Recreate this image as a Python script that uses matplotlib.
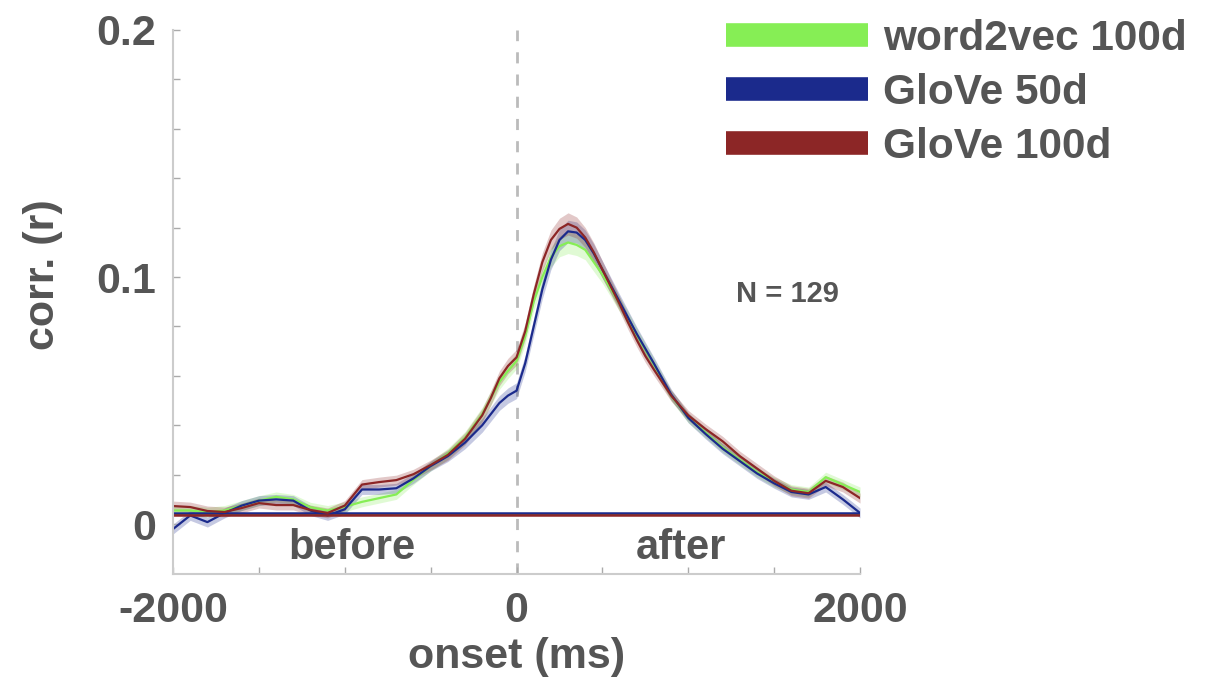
import numpy as np
import matplotlib
matplotlib.use("Agg")
import matplotlib.pyplot as plt
from matplotlib.lines import Line2D

plt.rcParams['font.family'] = ['Liberation Sans', 'DejaVu Sans']
plt.rcParams['font.weight'] = 'bold'

# lags (ms): 100 ms steps, 50 ms around the peak
lags = list(range(-2000, -299, 100)) + list(range(-200, 801, 50)) + list(range(900, 2001, 100))

w2v_100 = [0.0055, 0.0055, 0.0048, 0.0055, 0.0075, 0.0095, 0.0110, 0.0100, 0.0068, 0.0055,
           0.0070, 0.0090, 0.0105, 0.0120, 0.0180, 0.0235, 0.0285, 0.0350,
           0.0445, 0.0510, 0.0575, 0.0620, 0.0660, 0.0760, 0.0900, 0.1000, 0.1080, 0.1125,
           0.1140, 0.1130, 0.1110, 0.1060, 0.1010, 0.0950, 0.0890, 0.0830, 0.0765, 0.0705, 0.0645,
           0.0520, 0.0430, 0.0370, 0.0310, 0.0260, 0.0210, 0.0170, 0.0140, 0.0130, 0.0190,
           0.0160, 0.0130]

glove_50 = [-0.0020, 0.0035, 0.0008, 0.0045, 0.0075, 0.0095, 0.0100, 0.0095, 0.0055, 0.0035,
            0.0060, 0.0140, 0.0140, 0.0145, 0.0185, 0.0235, 0.0275, 0.0330,
            0.0400, 0.0445, 0.0490, 0.0520, 0.0540, 0.0650, 0.0800, 0.0950, 0.1070, 0.1150,
            0.1185, 0.1180, 0.1150, 0.1095, 0.1030, 0.0965, 0.0900, 0.0835, 0.0770, 0.0710, 0.0650,
            0.0525, 0.0430, 0.0365, 0.0305, 0.0255, 0.0205, 0.0165, 0.0130, 0.0120, 0.0150,
            0.0100, 0.0045]

glove_100 = [0.0073, 0.0069, 0.0053, 0.0049, 0.0065, 0.0085, 0.0077, 0.0077, 0.0057, 0.0045,
             0.0075, 0.0160, 0.0170, 0.0178, 0.0202, 0.0239, 0.0280, 0.0345,
             0.0440, 0.0510, 0.0590, 0.0640, 0.0675, 0.0780, 0.0930, 0.1060, 0.1150, 0.1195,
             0.1215, 0.1200, 0.1160, 0.1100, 0.1030, 0.0960, 0.0890, 0.0815, 0.0745, 0.0680, 0.0625,
             0.0520, 0.0440, 0.0385, 0.0335, 0.0275, 0.0225, 0.0175, 0.0135, 0.0125, 0.0175,
             0.0150, 0.0105]

# standard error (half width of shaded band)
sem = [0.002, 0.002, 0.002, 0.002, 0.002, 0.002, 0.002, 0.002, 0.002, 0.002,
       0.002, 0.002, 0.002, 0.002, 0.002, 0.002, 0.0022, 0.0025,
       0.0028, 0.0029, 0.003, 0.0031, 0.0032, 0.0033, 0.0035, 0.0038, 0.004, 0.0043,
       0.0045, 0.0043, 0.004, 0.0038, 0.0035, 0.0032, 0.003, 0.0029, 0.0028, 0.0026, 0.0025,
       0.0022, 0.002, 0.002, 0.002, 0.002, 0.002, 0.002, 0.002, 0.002, 0.002,
       0.002, 0.002]

# significance threshold per embedding
thresholds = [0.004, 0.0045, 0.0035]

names = ['word2vec 100d', 'GloVe 50d', 'GloVe 100d']
colors = ['#86ee55', '#1b2a8c', '#8c2626']
series = [w2v_100, glove_50, glove_100]

gray_txt = '#555555'
spine_col = '#cccccc'

fig = plt.figure(figsize=(12.11, 6.8), dpi=100)
ax = fig.add_axes([0.1429, 0.1559, 0.5673, 0.8000])

t = np.array(lags)
for vals, col, thr in zip(series, colors, thresholds):
    v = np.array(vals)
    e = np.array(sem)
    ax.fill_between(t, v - e, v + e, color=col, alpha=0.25, lw=0)
    ax.plot(t, v, color=col, lw=1.6)
    ax.plot([lags[0], lags[-1]], [thr, thr], color=col, lw=1.8)

ax.axvline(0, color='#bbbbbb', ls=(0, (4, 4)), lw=2, zorder=0)

ax.set_xlim(-2000, 2000)
ax.set_ylim(-0.0202, 0.2)
ax.set_xticks([-2000, 0, 2000])
ax.set_xticklabels(['-2000', '0', '2000'])
ax.set_xticks(np.arange(-2000, 2001, 500), minor=True)
ax.set_yticks([0, 0.1, 0.2])
ax.set_yticklabels(['0', '0.1', '0.2'])
ax.set_yticks(np.arange(0, 0.201, 0.02), minor=True)

for s in ['top', 'right']:
    ax.spines[s].set_visible(False)
for s in ['left', 'bottom']:
    ax.spines[s].set_color(spine_col)
    ax.spines[s].set_linewidth(1.5)
ax.tick_params(which='both', direction='in', color='#aaaaaa', length=5, width=1,
               labelsize=31, labelcolor=gray_txt, pad=12)

ax.set_xlabel('onset (ms)', fontsize=31, color=gray_txt, fontweight='bold', va='center')
ax.xaxis.set_label_coords(0.5, -0.152)
ax.set_ylabel('corr. (r)', fontsize=31, color=gray_txt, fontweight='bold', va='center')
ax.yaxis.set_label_coords(-0.19, 0.55)

ax.text(-960, -0.0095, 'before', fontsize=30, color=gray_txt, fontweight='bold',
        ha='center', va='center')
ax.text(960, -0.0095, 'after', fontsize=30, color=gray_txt, fontweight='bold',
        ha='center', va='center')
ax.text(1580, 0.093, 'N = 129', fontsize=21, color=gray_txt, fontweight='bold',
        ha='center', va='center')

handles = [Line2D([0], [0], color=c, lw=17, solid_capstyle='butt') for c in colors]
leg = fig.legend(handles, names, loc='upper left', bbox_to_anchor=(0.575, 1.016),
                 frameon=False, fontsize=30.5, handlelength=3.35, handletextpad=0.35,
                 labelspacing=0.33, borderpad=0.2)
for txt in leg.get_texts():
    txt.set_color(gray_txt)
    txt.set_fontweight('bold')

fig.savefig('out.png', dpi=100)
